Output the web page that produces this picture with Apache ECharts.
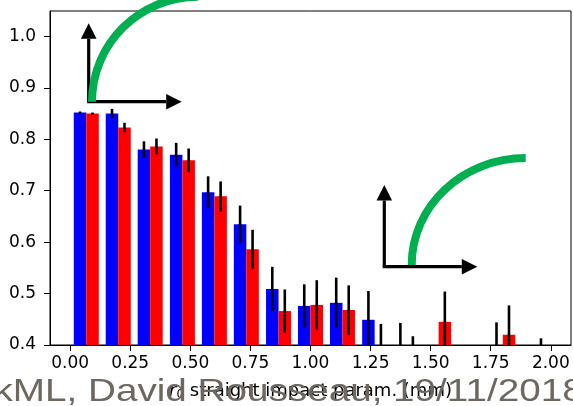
<!DOCTYPE html>
<html>
<head>
<meta charset="utf-8">
<script src="https://cdn.jsdelivr.net/npm/echarts@6/dist/echarts.min.js"></script>
<style>
  html, body { margin: 0; padding: 0; background: #fff; }
  #chart { width: 573px; height: 406px; }
</style>
</head>
<body>
<div id="chart"></div>
<script>
// Bin centres along r0 (mm)
const binCenters = [0.067, 0.2, 0.333, 0.467, 0.6, 0.733, 0.867, 1.0, 1.133, 1.267, 1.4, 1.533, 1.667, 1.8, 1.933];

// Blue series: efficiency and its uncertainty per bin
const blueValues = [0.852, 0.850, 0.780, 0.770, 0.697, 0.635, 0.509, 0.476, 0.482, 0.449, 0.38, null, null, 0.38, null];
const blueErrors = [0.002, 0.009, 0.016, 0.023, 0.031, 0.036, 0.043, 0.042, 0.049, 0.056, 0.063, null, null, 0.064, null];

// Red series: efficiency and its uncertainty per bin
const redValues = [0.850, 0.823, 0.786, 0.759, 0.689, 0.586, 0.466, 0.478, 0.468, 0.39, 0.37, 0.445, null, 0.420, 0.37];
const redErrors = [0.002, 0.009, 0.0155, 0.023, 0.029, 0.038, 0.042, 0.048, 0.048, 0.051, 0.047, 0.059, null, 0.057, 0.043];

// Tick positions
const xTicks = [0, 0.25, 0.5, 0.75, 1.0, 1.25, 1.5, 1.75, 2.0];
const yTicks = [0.4, 0.5, 0.6, 0.7, 0.8, 0.9, 1.0];

const BAR_W = 0.052;

function buildData(values, errors, offset) {
  const out = [];
  binCenters.forEach((c, i) => {
    if (values[i] != null) out.push([c + offset, values[i], errors[i]]);
  });
  return out;
}

function makeRender(color) {
  return function (params, api) {
    const cs = params.coordSys;
    const x = api.value(0), v = api.value(1), e = api.value(2);
    const pl = api.coord([x - BAR_W / 2, v]);
    const pr = api.coord([x + BAR_W / 2, 0]);
    const rect = echarts.graphic.clipRectByRect(
      { x: pl[0], y: pl[1], width: pr[0] - pl[0], height: pr[1] - pl[1] },
      { x: cs.x, y: cs.y, width: cs.width, height: cs.height }
    );
    const children = [];
    if (rect) {
      children.push({ type: 'rect', shape: rect, style: { fill: color }, z2: 1 });
    }
    const top = api.coord([x, v + e])[1];
    const bot = api.coord([x, v - e])[1];
    const yMin = cs.y, yMax = cs.y + cs.height;
    const t = Math.max(top, yMin), b = Math.min(bot, yMax);
    if (t < b) {
      const cx = api.coord([x, v])[0];
      children.push({
        type: 'line',
        shape: { x1: cx, y1: t, x2: cx, y2: b },
        style: { stroke: '#000', lineWidth: 2.6 },
        z2: 2
      });
    }
    return { type: 'group', children: children };
  };
}

// Axes glyph with a curved track: arrows plus a quarter-ellipse arc
function axesGlyph(ox, oy, vTip, hTip) {
  const lw = 3.2, head = 15.5, half = 7.8;
  return [
    { type: 'line', shape: { x1: ox, y1: oy, x2: ox, y2: vTip + head }, style: { stroke: '#000', lineWidth: lw } },
    { type: 'polygon', shape: { points: [[ox, vTip], [ox - half, vTip + head], [ox + half, vTip + head]] }, style: { fill: '#000' } },
    { type: 'line', shape: { x1: ox - lw / 2, y1: oy, x2: hTip - head, y2: oy }, style: { stroke: '#000', lineWidth: lw } },
    { type: 'polygon', shape: { points: [[hTip, oy], [hTip - head, oy - half], [hTip - head, oy + half]] }, style: { fill: '#000' } }
  ];
}
function arc(x0, y0, rx, ry) {
  const k = 0.5523;
  const cx = x0 + rx, cy = y0;
  return {
    type: 'bezierCurve',
    shape: {
      x1: x0, y1: y0,
      cpx1: x0, cpy1: cy - k * ry,
      cpx2: cx - k * rx, cpy2: cy - ry,
      x2: cx, y2: cy - ry
    },
    style: { stroke: '#00b050', lineWidth: 8, fill: null, lineCap: 'butt' }
  };
}

const chart = echarts.init(document.getElementById('chart'), null, { renderer: 'canvas' });

const tickFont = { fontFamily: 'DejaVu Sans', fontSize: 17, color: '#000' };

chart.setOption({
  animation: false,
  backgroundColor: '#fff',
  grid: {
    left: 50, right: 2, top: 11, bottom: 61,
    show: true, borderColor: '#000', borderWidth: 1, backgroundColor: 'transparent'
  },
  xAxis: {
    type: 'value',
    min: -0.084, max: 2.084,
    axisLine: { show: true, onZero: false, lineStyle: { color: '#000', width: 1 } },
    axisTick: { show: true, length: 6, lineStyle: { color: '#000', width: 1 }, customValues: xTicks },
    axisLabel: Object.assign({ margin: 10, customValues: xTicks, formatter: v => v.toFixed(2) }, tickFont),
    splitLine: { show: false },
    name: '{i|r}{s|0} straight impact param. (mm)',
    nameLocation: 'middle',
    nameGap: 36,
    nameTextStyle: {
      fontFamily: 'DejaVu Sans', fontSize: 18, color: '#000',
      rich: {
        i: { fontFamily: 'DejaVu Sans', fontStyle: 'italic', fontSize: 18, color: '#000' },
        s: { fontFamily: 'DejaVu Sans', fontSize: 12, color: '#000', padding: [8, 0, 0, 0] }
      }
    }
  },
  yAxis: {
    type: 'value',
    min: 0.4, max: 1.0494,
    axisLine: { show: true, onZero: false, lineStyle: { color: '#000', width: 1 } },
    axisTick: { show: true, length: 6, lineStyle: { color: '#000', width: 1 }, customValues: yTicks },
    axisLabel: Object.assign({ margin: 14, customValues: yTicks, formatter: v => v.toFixed(1) }, tickFont),
    splitLine: { show: false }
  },
  series: [
    {
      type: 'custom', name: 'blue',
      renderItem: makeRender('#0000ff'),
      data: buildData(blueValues, blueErrors, -BAR_W / 2),
      encode: { x: 0, y: 1 },
      z: 2
    },
    {
      type: 'custom', name: 'red',
      renderItem: makeRender('#ff0000'),
      data: buildData(redValues, redErrors, BAR_W / 2),
      encode: { x: 0, y: 1 },
      z: 3
    }
  ],
  graphic: [
    {
      type: 'group', z: 50,
      children: axesGlyph(88.7, 101.7, 23.3, 181.7).concat([arc(92, 101.7, 106, 105)])
    },
    {
      type: 'group', z: 50,
      children: axesGlyph(384.3, 266.7, 185, 477.3).concat([arc(411.7, 265, 114, 107)])
    },
    {
      type: 'text', z: 100,
      x: -6.5, y: 392, scaleX: 1.208,
      style: {
        text: 'kML, David Rousseau, 19/11/2018',
        fontFamily: 'Liberation Sans', fontSize: 32,
        fill: '#6d675f', verticalAlign: 'middle', align: 'left'
      }
    }
  ]
});
</script>
</body>
</html>
